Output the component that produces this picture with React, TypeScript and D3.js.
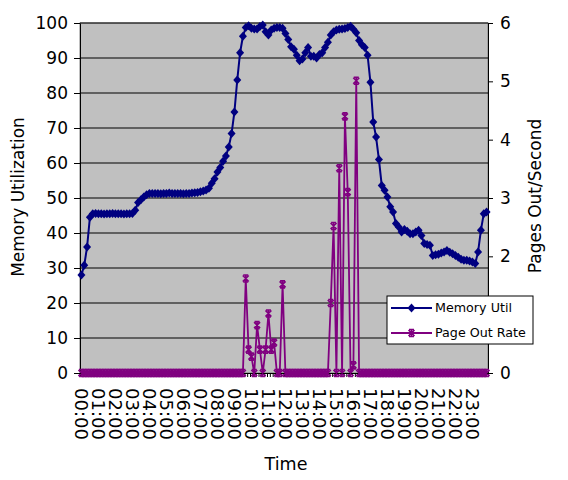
import * as d3 from "d3";
import { useEffect, useRef } from "react";

// hourly category labels (data is sampled every 10 minutes)
const hourLabels = [
  "00:00", "01:00", "02:00", "03:00", "04:00", "05:00", "06:00", "07:00",
  "08:00", "09:00", "10:00", "11:00", "12:00", "13:00", "14:00", "15:00",
  "16:00", "17:00", "18:00", "19:00", "20:00", "21:00", "22:00", "23:00",
];
const slotsPerHour = 6;

// Memory utilization (%), left axis
const memUtil = [
  28, 30.8, 36, 44.5, 45.5, 45.6, 45.5, 45.5, 45.4, 45.5,
  45.5, 45.6, 45.5, 45.5, 45.5, 45.4, 45.5, 45.5, 45.6, 46.5,
  48.7, 49.5, 50.3, 50.9, 51.3, 51.3, 51.3, 51.3, 51.2, 51.3,
  51.3, 51.4, 51.3, 51.3, 51.3, 51.3, 51.2, 51.3, 51.3, 51.4,
  51.5, 51.6, 51.8, 52, 52.3, 52.8, 54.2, 55.5, 57.4, 58.7,
  60.5, 62, 64.6, 68.4, 74.6, 83.7, 91.5, 96.2, 98.7, 99.2,
  98.5, 98.3, 98.3, 99, 99.4, 97.5, 96.6, 98, 98.5, 98.7,
  98.7, 98.5, 97, 95.3, 93.2, 92.5, 90.8, 89.2, 89.7, 91.5,
  93, 90.5, 90.5, 90, 91, 91.5, 93, 94.5, 96.6, 97.5,
  98, 98.2, 98.3, 98.4, 98.7, 99.1, 98.2, 97.2, 95, 93.8,
  93, 90.8, 83.1, 71.7, 67.4, 61, 53.6, 52.2, 50.3, 47.5,
  46, 42.7, 41.7, 40.3, 41, 40.5, 39.8, 39.8, 40.3, 40.8,
  39.3, 37, 36.7, 36.5, 33.6, 33.8, 33.9, 34.3, 34.6, 35,
  34.5, 34.1, 33.6, 33.1, 32.5, 32.2, 32.2, 32, 31.7, 31.3,
  34.6, 40.8, 45.5, 46,
];

// Pages out per second, right axis
const pageOut = [
  0, 0, 0, 0, 0, 0, 0, 0, 0, 0,
  0, 0, 0, 0, 0, 0, 0, 0, 0, 0,
  0, 0, 0, 0, 0, 0, 0, 0, 0, 0,
  0, 0, 0, 0, 0, 0, 0, 0, 0, 0,
  0, 0, 0, 0, 0, 0, 0, 0, 0, 0,
  0, 0, 0, 0, 0, 0, 0, 0, 1.62, 0.4,
  0.28, 0, 0.82, 0.4, 0, 0.4, 1.02, 0.4, 0.52, 0,
  0, 1.52, 0, 0, 0, 0, 0, 0, 0, 0,
  0, 0, 0, 0, 0, 0, 0, 0, 1.2, 2.52,
  0, 3.51, 0, 4.4, 3.1, 0, 0.13, 5.01, 0, 0,
  0, 0, 0, 0, 0, 0, 0, 0, 0, 0,
  0, 0, 0, 0, 0, 0, 0, 0, 0, 0,
  0, 0, 0, 0, 0, 0, 0, 0, 0, 0,
  0, 0, 0, 0, 0, 0, 0, 0, 0, 0,
  0, 0, 0, 0,
];

const seriesNames = ["Memory Util", "Page Out Rate"];

export default function App() {
  const svgRef = useRef<SVGSVGElement>(null);

  useEffect(() => {
    render();
  }, []);

  const render = () => {
    const width = 568;
    const height = 480;
    const plot = { left: 80, right: 488, top: 23, bottom: 373 };
    const font = "'DejaVu Sans', Verdana, sans-serif";
    const navy = "#000080";
    const purple = "#800080";

    const svg = d3.select(svgRef.current).attr("width", width).attr("height", height);
    svg.selectAll("*").remove();
    svg.append("rect").attr("width", width).attr("height", height).attr("fill", "#fff");

    const slots = d3.range(memUtil.length);
    const x = d3.scaleBand<number>().domain(slots).range([plot.left, plot.right]);
    const cx = (i: number) => (x(i) as number) + x.bandwidth() / 2;
    const yL = d3.scaleLinear().domain([0, 100]).range([plot.bottom, plot.top]);
    const yR = d3.scaleLinear().domain([0, 6]).range([plot.bottom, plot.top]);

    // plot area
    svg
      .append("rect")
      .attr("x", plot.left)
      .attr("y", plot.top)
      .attr("width", plot.right - plot.left)
      .attr("height", plot.bottom - plot.top)
      .attr("fill", "#c0c0c0")
      .attr("stroke", "#808080");

    // gridlines
    svg
      .append("g")
      .selectAll("line")
      .data(d3.range(10, 101, 10))
      .join("line")
      .attr("x1", plot.left)
      .attr("x2", plot.right)
      .attr("y1", (d) => yL(d))
      .attr("y2", (d) => yL(d))
      .attr("stroke", "#000")
      .attr("stroke-width", 1);

    // left axis
    const gL = svg
      .append("g")
      .attr("transform", `translate(${plot.left},0)`)
      .call(d3.axisLeft(yL).tickValues(d3.range(0, 101, 10)).tickSize(6).tickSizeOuter(0).tickPadding(6));
    // right axis (the "1" label sits under the legend, so it is left blank)
    const gR = svg
      .append("g")
      .attr("transform", `translate(${plot.right},0)`)
      .call(
        d3
          .axisRight(yR)
          .ticks(6)
          .tickFormat((d) => (d === 1 ? "" : String(d)))
          .tickSize(5)
          .tickSizeOuter(0)
          .tickPadding(7)
      );
    [gL, gR].forEach((g) => {
      g.selectAll("text").attr("font-family", font).attr("font-size", 17).attr("fill", "#000");
      g.selectAll("line,path").attr("stroke", "#000");
    });

    // x axis: a tick at every category boundary, a label every hour
    const xb = d3.scaleLinear().domain([0, slots.length]).range([plot.left, plot.right]);
    const gX = svg
      .append("g")
      .attr("transform", `translate(0,${plot.bottom})`)
      .call(d3.axisBottom(xb).tickValues(d3.range(0, slots.length + 1)).tickFormat(() => "").tickSize(4).tickSizeOuter(0));
    gX.selectAll("line,path").attr("stroke", "#000");

    svg
      .append("g")
      .selectAll("text")
      .data(hourLabels)
      .join("text")
      .attr("transform", (d, i) => `translate(${cx(i * slotsPerHour)},388) rotate(90)`)
      .attr("dy", "0.35em")
      .attr("font-family", font)
      .attr("font-size", 18)
      .text((d) => d);

    // axis titles
    svg
      .append("text")
      .attr("transform", "translate(18.5,197) rotate(-90)")
      .attr("dy", "0.35em")
      .attr("text-anchor", "middle")
      .attr("font-family", font)
      .attr("font-size", 17)
      .text("Memory Utilization");
    svg
      .append("text")
      .attr("transform", "translate(535,196) rotate(-90)")
      .attr("dy", "0.35em")
      .attr("text-anchor", "middle")
      .attr("font-family", font)
      .attr("font-size", 17)
      .text("Pages Out/Second");
    svg
      .append("text")
      .attr("x", 286)
      .attr("y", 470)
      .attr("text-anchor", "middle")
      .attr("font-family", font)
      .attr("font-size", 17.5)
      .text("Time");

    const diamond = "M0,-4.5L4,0L0,4.5L-4,0Z";
    const star = "M-3,-3L3,3M-3,3L3,-3M0,-3.5L0,3.5M-2.5,-3.5L2.5,-3.5M-2.5,3.5L2.5,3.5";

    // memory series
    svg
      .append("path")
      .datum(memUtil)
      .attr("fill", "none")
      .attr("stroke", navy)
      .attr("stroke-width", 2)
      .attr("d", d3.line<number>().x((d, i) => cx(i)).y((d) => yL(d)));
    svg
      .append("g")
      .selectAll("path")
      .data(memUtil)
      .join("path")
      .attr("transform", (d, i) => `translate(${cx(i)},${yL(d)})`)
      .attr("d", diamond)
      .attr("fill", navy);

    // page out series
    svg
      .append("path")
      .datum(pageOut)
      .attr("fill", "none")
      .attr("stroke", purple)
      .attr("stroke-width", 1.8)
      .attr("d", d3.line<number>().x((d, i) => cx(i)).y((d) => yR(d)));
    svg
      .append("g")
      .selectAll("path")
      .data(pageOut)
      .join("path")
      .attr("transform", (d, i) => `translate(${cx(i)},${yR(d)})`)
      .attr("d", star)
      .attr("fill", "none")
      .attr("stroke", purple)
      .attr("stroke-width", 1.6);

    // legend
    const lg = svg.append("g").attr("transform", "translate(387,296)");
    lg.append("rect").attr("width", 146).attr("height", 48).attr("fill", "#fff").attr("stroke", "#000");
    const entries = lg
      .selectAll("g")
      .data(seriesNames)
      .join("g")
      .attr("transform", (d, i) => `translate(0,${12 + i * 25})`);
    entries
      .append("line")
      .attr("x1", 4)
      .attr("x2", 45)
      .attr("stroke", (d, i) => (i === 0 ? navy : purple))
      .attr("stroke-width", 2);
    entries
      .append("path")
      .attr("transform", "translate(24.5,0)")
      .attr("d", (d, i) => (i === 0 ? diamond : star))
      .attr("fill", (d, i) => (i === 0 ? navy : "none"))
      .attr("stroke", (d, i) => (i === 0 ? "none" : purple))
      .attr("stroke-width", 1.6);
    entries
      .append("text")
      .attr("x", 48)
      .attr("dy", "0.35em")
      .attr("font-family", font)
      .attr("font-size", 12.7)
      .text((d) => d);
  };

  return <svg ref={svgRef} style={{ position: "absolute", left: 0, top: 0 }}></svg>;
}
